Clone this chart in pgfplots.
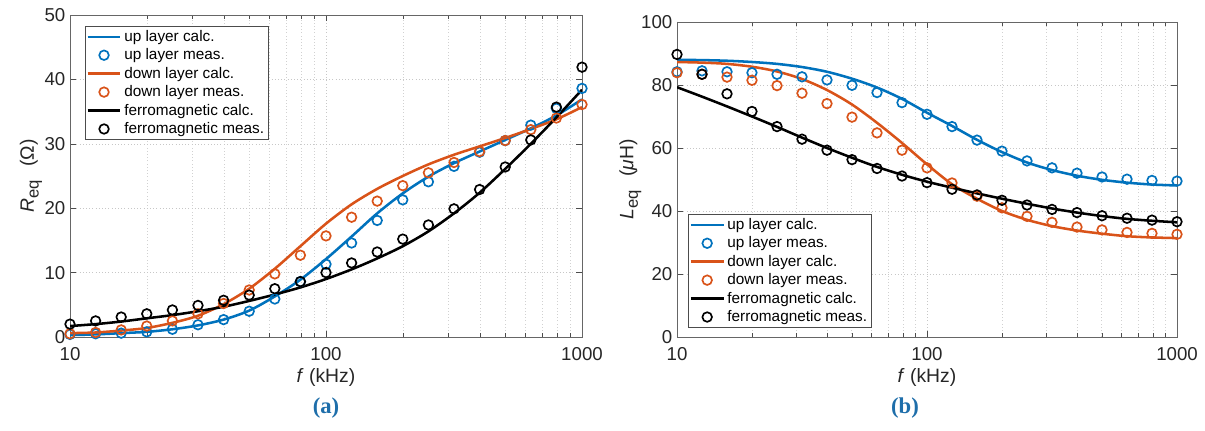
\documentclass[border=0pt]{standalone}
\usepackage{pgfplots}
\usepackage{pgfplotstable}
\pgfplotsset{compat=1.18}
\usepackage{fontspec}
\setmainfont{Liberation Sans}
\newfontfamily\capfont{Liberation Serif}

\definecolor{mblue}{RGB}{0,114,189}
\definecolor{morange}{RGB}{217,83,25}
\definecolor{capblue}{RGB}{30,110,170}

% R_eq, left panel
\pgfplotstableread{
f      up    down  fer
10     0.4   0.5   2.0
12.59  0.5   0.7   2.5
15.85  0.6   1.1   3.1
19.95  0.8   1.7   3.6
25.12  1.2   2.5   4.2
31.62  1.9   3.6   4.9
39.81  2.7   5.2   5.7
50.12  4.0   7.3   6.5
63.10  5.9   9.8   7.5
79.43  8.6   12.7  8.6
100    11.3  15.7  10.0
125.9  14.6  18.6  11.5
158.5  18.1  21.1  13.2
199.5  21.3  23.5  15.2
251.2  24.1  25.5  17.4
316.2  26.5  27.1  19.9
398.1  28.7  28.8  22.9
501.2  30.5  30.5  26.4
631.0  32.9  32.2  30.6
794.3  35.5  34.0  35.7
1000   38.6  36.1  41.9
}\Rmeas
\pgfplotstableread{
f      up    down  fer
10     0.3   0.6   1.7
12.59  0.4   0.7   2.0
15.85  0.6   1.0   2.4
19.95  0.8   1.4   2.9
25.12  1.2   2.2   3.4
31.62  1.8   3.3   4.0
39.81  2.7   5.1   4.7
50.12  4.1   7.5   5.6
63.10  6.3   10.6  6.6
79.43  8.9   14.1  7.7
100    12.1  17.6  9.0
125.9  15.6  20.6  10.5
158.5  19.2  23.0  12.2
199.5  22.3  25.0  14.1
251.2  24.9  26.8  16.4
316.2  27.0  28.3  19.2
398.1  28.8  29.6  22.4
501.2  30.6  30.9  26.1
631.0  32.4  32.3  30.0
794.3  34.4  33.8  34.1
1000   36.9  35.7  38.4
}\Rcalc

% L_eq, right panel
\pgfplotstableread{
f      up    down  fer
10     84.2  83.9  89.7
12.59  84.5  83.4  83.4
15.85  84.2  82.5  77.2
19.95  83.9  81.5  71.6
25.12  83.4  79.8  66.8
31.62  82.6  77.4  62.8
39.81  81.6  74.1  59.3
50.12  79.9  69.8  56.3
63.10  77.6  64.8  53.5
79.43  74.4  59.3  51.1
100    70.7  53.7  49.0
125.9  66.8  48.9  46.9
158.5  62.5  44.7  45.1
199.5  59.0  41.0  43.4
251.2  55.9  38.3  41.9
316.2  53.7  36.4  40.5
398.1  52.0  34.9  39.5
501.2  50.8  34.0  38.5
631.0  50.1  33.2  37.7
794.3  49.7  32.9  37.1
1000   49.5  32.6  36.6
}\Lmeas
\pgfplotstableread{
f      up    down  fer
10     88.0  87.3  79.3
12.59  87.9  87.1  76.3
15.85  87.7  86.7  73.2
19.95  87.3  85.8  70.0
25.12  86.7  84.3  66.7
31.62  85.7  81.9  63.3
39.81  84.2  78.4  60.0
50.12  82.0  73.8  56.9
63.10  79.2  68.0  54.0
79.43  75.6  61.6  51.5
100    71.2  54.8  49.3
125.9  67.0  48.5  47.4
158.5  62.6  43.9  45.6
199.5  58.7  40.0  43.9
251.2  55.4  37.2  42.3
316.2  53.0  35.2  40.8
398.1  51.2  33.8  39.5
501.2  49.9  32.8  38.4
631.0  49.0  32.0  37.5
794.3  48.4  31.6  36.9
1000   48.1  31.4  36.4
}\Lcalc

\pgfplotsset{
  mycalc/.style={line width=1.9pt, smooth, mark=none},
  mymeas/.style={only marks, mark=o, mark size=3.6pt, line width=1.25pt},
}
\newcommand{\sub}[1]{\raisebox{-0.45ex}{\fontsize{12.5}{13}\selectfont #1}}

\begin{document}
\begin{tikzpicture}
\useasboundingbox (0,0) rectangle (903.75pt,323.25pt);

\begin{axis}[
  xmode=log, scale only axis,
  at={(52.5pt,70.5pt)}, anchor=south west,
  width=384pt, height=241.5pt,
  xmin=10, xmax=1000,
  xtick={10,100,1000}, xticklabels={10,100,1000},
  ymin=0, ymax=50, ytick={0,10,20,30,40,50},
  /pgf/number format/assume math mode=true,
  tick align=inside, axis line style={black!60},
  major tick style={black!70}, minor tick style={black!70},
  major tick length=4.5pt, minor tick length=2.8pt,
  grid=both,
  major grid style={black!22, dotted},
  minor grid style={black!18, dotted},
  tick label style={font=\fontsize{14}{16}\selectfont, text=black!85},
  xticklabel style={yshift=-4.5pt},
  label style={font=\fontsize{14.5}{17}\selectfont, text=black!85},
  xlabel={\textit{f} (kHz)}, xlabel shift=-1pt,
  ylabel={\textit{R}\sub{eq}\hspace{0.7em}(Ω)}, ylabel shift=-5pt,
  legend cell align=left,
  legend style={at={(0.029,0.966)}, anchor=north west,
    draw=black!70, fill=white, font=\fontsize{11.5}{13}\selectfont,
    inner xsep=1pt, inner ysep=1pt, row sep=0pt},
  legend image code/.code={\draw[mark repeat=2,mark phase=2,#1]
      plot coordinates {(0cm,0cm) (0.43cm,0cm) (0.86cm,0cm)};},
]
\addplot[mycalc, mblue] table[x=f, y=up] {\Rcalc};
\addlegendentry{up layer calc.}
\addplot[mymeas, mblue] table[x=f, y=up] {\Rmeas};
\addlegendentry{up layer meas.}
\addplot[mycalc, morange] table[x=f, y=down] {\Rcalc};
\addlegendentry{down layer calc.}
\addplot[mymeas, morange] table[x=f, y=down] {\Rmeas};
\addlegendentry{down layer meas.}
\addplot[mycalc, black] table[x=f, y=fer] {\Rcalc};
\addlegendentry{ferromagnetic calc.}
\addplot[mymeas, black] table[x=f, y=fer] {\Rmeas};
\addlegendentry{ferromagnetic meas.}
\end{axis}

\begin{axis}[
  xmode=log, scale only axis,
  at={(507.75pt,70.5pt)}, anchor=south west,
  width=375pt, height=236.25pt,
  xmin=10, xmax=1000,
  xtick={10,100,1000}, xticklabels={10,100,1000},
  ymin=0, ymax=100, ytick={0,20,40,60,80,100},
  /pgf/number format/assume math mode=true,
  tick align=inside, axis line style={black!60},
  major tick style={black!70}, minor tick style={black!70},
  major tick length=4.5pt, minor tick length=2.8pt,
  grid=both,
  major grid style={black!22, dotted},
  minor grid style={black!18, dotted},
  tick label style={font=\fontsize{14}{16}\selectfont, text=black!85},
  xticklabel style={yshift=-4.5pt},
  label style={font=\fontsize{14.5}{17}\selectfont, text=black!85},
  xlabel={\textit{f} (kHz)}, xlabel shift=-1pt,
  ylabel={\textit{L}\sub{eq}\hspace{0.7em}(\textit{μ}H)}, ylabel shift=-7pt,
  legend cell align=left,
  legend style={at={(0.022,0.029)}, anchor=south west,
    draw=black!70, fill=white, font=\fontsize{11.5}{13}\selectfont,
    inner xsep=1pt, inner ysep=1pt, row sep=0pt},
  legend image code/.code={\draw[mark repeat=2,mark phase=2,#1]
      plot coordinates {(0cm,0cm) (0.43cm,0cm) (0.86cm,0cm)};},
]
\addplot[mycalc, mblue] table[x=f, y=up] {\Lcalc};
\addlegendentry{up layer calc.}
\addplot[mymeas, mblue] table[x=f, y=up] {\Lmeas};
\addlegendentry{up layer meas.}
\addplot[mycalc, morange] table[x=f, y=down] {\Lcalc};
\addlegendentry{down layer calc.}
\addplot[mymeas, morange] table[x=f, y=down] {\Lmeas};
\addlegendentry{down layer meas.}
\addplot[mycalc, black] table[x=f, y=fer] {\Lcalc};
\addlegendentry{ferromagnetic calc.}
\addplot[mymeas, black] table[x=f, y=fer] {\Lmeas};
\addlegendentry{ferromagnetic meas.}
\end{axis}

\node[font=\capfont\bfseries\fontsize{17}{19}\selectfont, text=capblue] at (244.5pt,17pt) {(a)};
\node[font=\capfont\bfseries\fontsize{17}{19}\selectfont, text=capblue] at (678.75pt,17pt) {(b)};
\end{tikzpicture}
\end{document}
